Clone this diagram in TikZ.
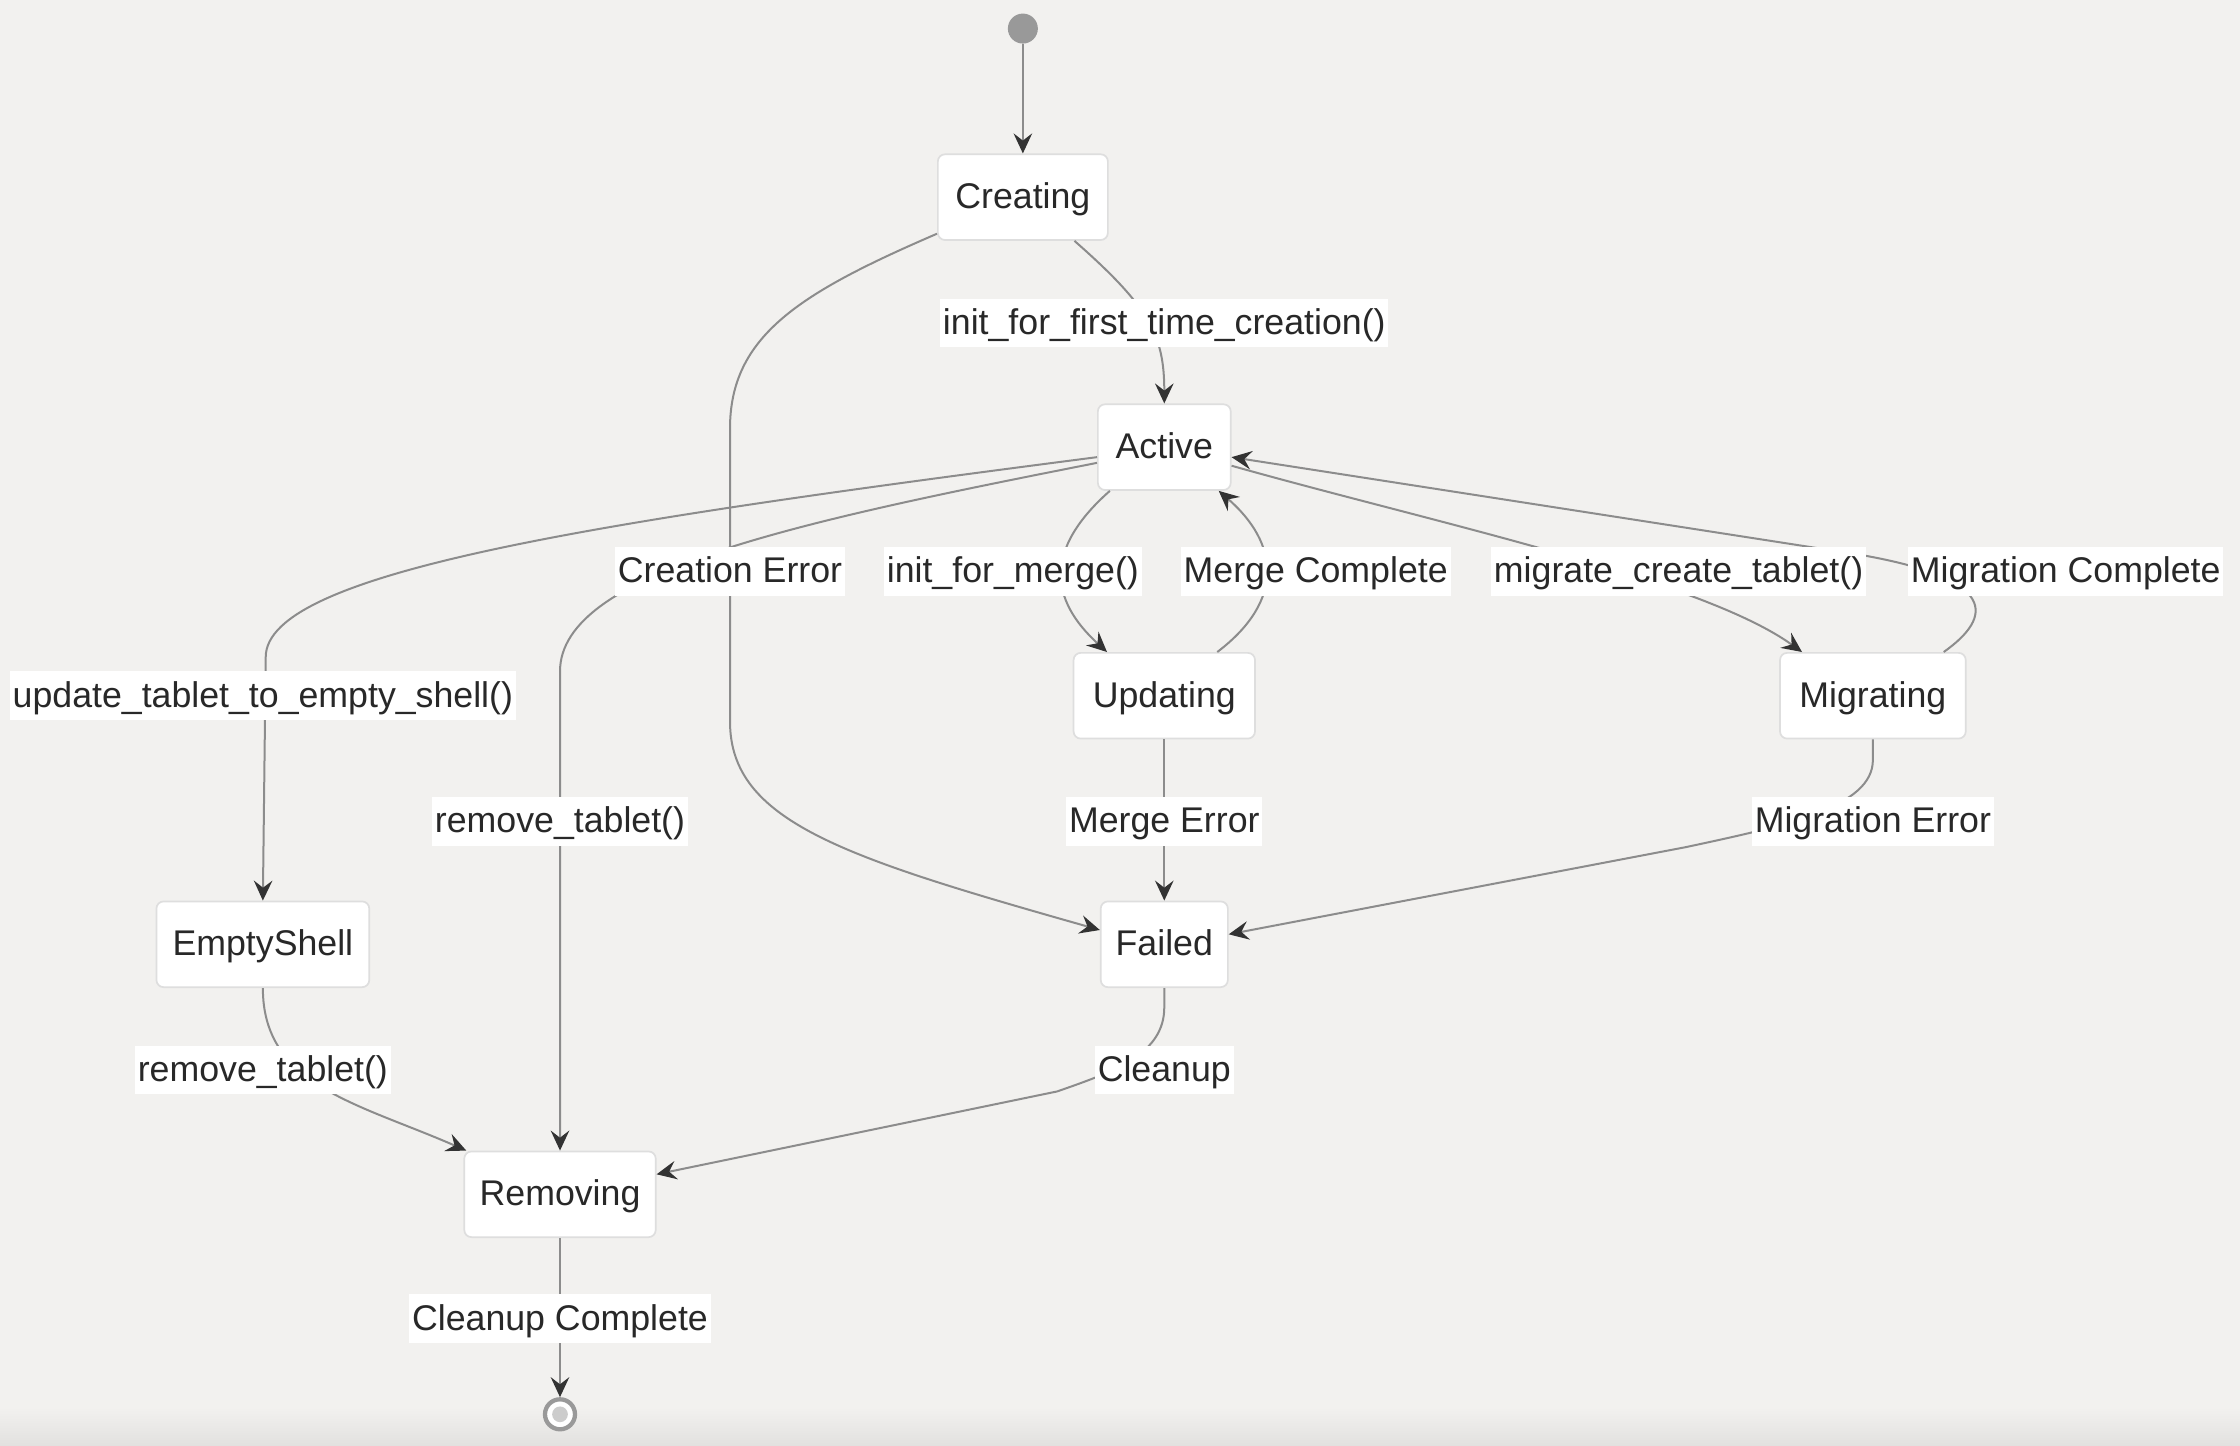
\documentclass[tikz,border=0pt]{standalone}
\usepackage{fontspec}
\setmainfont{Liberation Sans}
\usetikzlibrary{arrows.meta,calc}
\definecolor{bgc}{RGB}{242,241,239}
\definecolor{bgd}{RGB}{226,225,223}
\definecolor{edgec}{RGB}{140,140,140}
\definecolor{tipc}{RGB}{51,51,51}
\definecolor{txtc}{RGB}{40,40,40}
\definecolor{boxline}{RGB}{222,222,222}
\tikzset{
  statebox/.style={draw=boxline, line width=1.2pt, fill=white, rounded corners=5pt,
    minimum height=60pt, inner xsep=10pt, text height=19pt, text depth=3pt,
    font=\fontsize{25}{29}\selectfont, text=txtc},
  elabel/.style={fill=white, inner xsep=2pt, inner ysep=6pt, text height=19pt, text depth=3pt,
    font=\fontsize{25}{29}\selectfont, text=txtc},
  conn/.style={draw=edgec, line width=1.4pt,
    -{Stealth[length=14pt, width=13pt, inset=5pt, color=tipc]}},
}
\begin{document}
\begin{tikzpicture}[x=1pt, y=-1pt]
\useasboundingbox (0,0) rectangle (1568,1012);
\fill[bgc] (0,0) rectangle (1568,1012);
\shade[top color=bgc, bottom color=bgd] (0,985) rectangle (1568,1012);

% states
\node[circle, fill=black!40, minimum size=21pt, inner sep=0pt] (start) at (716,20) {};
\node[statebox, minimum width=119pt] (creating) at (716,138) {Creating};
\node[statebox, minimum width=93pt] (active) at (815,313) {Active};
\node[statebox, minimum width=127pt] (updating) at (815,487) {Updating};
\node[statebox, minimum width=130pt] (migrating) at (1311,487) {Migrating};
\node[statebox, minimum width=149pt] (emptyshell) at (184,661) {EmptyShell};
\node[statebox, minimum width=89pt] (failed) at (815,661) {Failed};
\node[statebox, minimum width=134pt] (removing) at (392,836) {Removing};
\node[circle, draw=black!40, line width=3pt, fill=white, minimum size=21pt, inner sep=0pt] (end) at (392,990) {};
\fill[black!20] (end.center) circle (5.5pt);

% connectors
\draw[conn] (start.south) -- (creating.north);
\draw[conn] ([xshift=-24pt]creating.south east) .. controls (805,215) and (815,235) .. (active.north);
\draw[conn] ([yshift=5pt]creating.south west) .. controls (560,205) and (511,235) .. (511,300)
   -- (511,505) .. controls (511,575) and (590,600) .. ([yshift=10pt]failed.west);
\draw[conn] ([yshift=-7pt]active.west) .. controls (420,365) and (186,400) .. (186,460) -- (emptyshell.north);
\draw[conn] ([yshift=-11pt]active.west) .. controls (560,365) and (392,400) .. (392,470) -- (removing.north);
\draw[conn] ([xshift=9pt]active.south west) .. controls (730,385) and (735,420) .. ([xshift=24pt]updating.north west);
\draw[conn] ([xshift=-27pt]updating.north east) .. controls (900,420) and (895,380) .. ([xshift=-9pt]active.south east);
\draw[conn] ([yshift=-13pt]active.east) .. controls (1000,365) and (1190,405) .. ([xshift=16pt]migrating.north west);
\draw[conn] ([xshift=-16pt]migrating.north east) .. controls (1395,432) and (1400,405) .. (1300,388) -- ([yshift=-7pt]active.east);
\draw[conn] (updating.south) -- (failed.north);
\draw[conn] (migrating.south) -- (1311,532) .. controls (1311,565) and (1250,578) .. (1180,593) -- ([yshift=7pt]failed.east);
\draw[conn] (emptyshell.south) .. controls (184,760) and (250,772) .. ([xshift=2pt]removing.north west);
\draw[conn] (failed.south) -- (815,705) .. controls (815,738) and (780,750) .. (740,764) -- ([yshift=14pt]removing.east);
\draw[conn] (removing.south) -- (end.north);

% labels
\node[elabel] (l1) at (815,226) {init\_for\_first\_time\_creation()};
\node[elabel] (l2) at (511,400) {Creation Error};
\node[elabel] (l3) at (709,400) {init\_for\_merge()};
\node[elabel] (l4) at (921,400) {Merge Complete};
\node[elabel] (l5) at (1175,400) {migrate\_create\_tablet()};
\node[elabel] (l6) at (1446,400) {Migration Complete};
\node[elabel] (l7) at (184,487) {update\_tablet\_to\_empty\_shell()};
\node[elabel] (l8) at (392,575) {remove\_tablet()};
\node[elabel] (l9) at (815,575) {Merge Error};
\node[elabel] (l10) at (1311,575) {Migration Error};
\node[elabel] (l11) at (184,749) {remove\_tablet()};
\node[elabel] (l12) at (815,749) {Cleanup};
\node[elabel] (l13) at (392,923) {Cleanup Complete};
\end{tikzpicture}
\end{document}
